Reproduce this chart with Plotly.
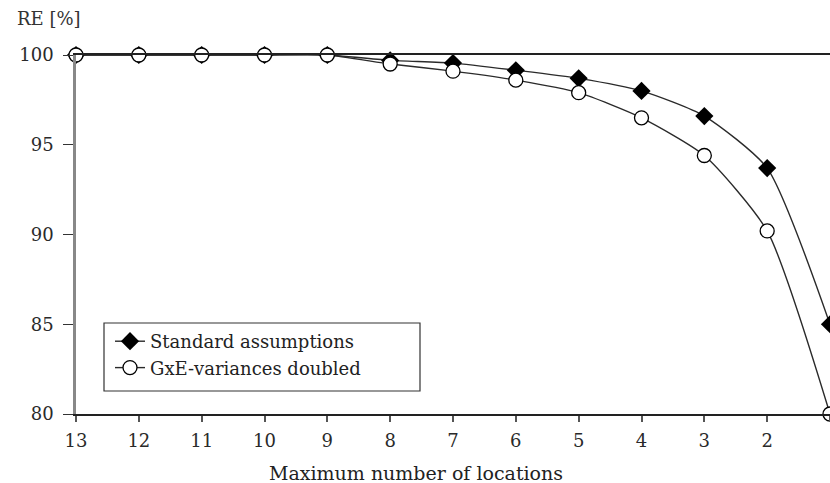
import plotly.graph_objects as go

locations = [13, 12, 11, 10, 9, 8, 7, 6, 5, 4, 3, 2, 1]
standard = [100, 100, 100, 100, 100, 99.7, 99.55, 99.15, 98.7, 98.0, 96.6, 93.7, 85.0]
gxe_doubled = [100, 100, 100, 100, 100, 99.5, 99.1, 98.6, 97.9, 96.5, 94.4, 90.2, 80.0]
y_ticks = [80, 85, 90, 95, 100]

W, H = 830, 483
ML, MR, MT, MB = 76, 0, 55, 69

font = "DejaVu Serif, Liberation Serif, serif"

fig = go.Figure()
fig.add_trace(go.Scatter(
    x=locations, y=standard, name="Standard assumptions", mode="lines+markers",
    line=dict(color="#2a2a2a", width=1.4, shape="spline", smoothing=0.6),
    marker=dict(symbol="diamond", size=14, color="black", line=dict(color="black", width=0)),
    cliponaxis=False,
))
fig.add_trace(go.Scatter(
    x=locations, y=gxe_doubled, name="GxE-variances doubled", mode="lines+markers",
    line=dict(color="#2a2a2a", width=1.4, shape="spline", smoothing=0.6),
    marker=dict(symbol="circle", size=14, color="white", line=dict(color="black", width=1.3)),
    cliponaxis=False,
))

pw = W - ML - MR
ph = H - MT - MB
def px(x):  # page pixel -> paper
    return (x - ML) / pw
def py(y):
    return 1 - (y - MT) / ph

fig.add_shape(type="rect", xref="paper", yref="paper",
              x0=px(104), x1=px(420), y0=py(391), y1=py(323),
              line=dict(color="#333", width=1.2), fillcolor="white", layer="below")

fig.update_layout(
    width=W, height=H,
    margin=dict(l=ML, r=MR, t=MT, b=MB),
    paper_bgcolor="white", plot_bgcolor="white",
    font=dict(family=font, color="#333", size=17),
    showlegend=True,
    legend=dict(x=px(110), y=py(323), xanchor="left", yanchor="top",
                bgcolor="rgba(0,0,0,0)", borderwidth=0,
                font=dict(family=font, size=18, color="#222"),
                tracegroupgap=5, itemwidth=30),
    xaxis=dict(range=[13, 1], tickmode="array", tickvals=locations,
               ticktext=[str(v) for v in locations],
               showline=True, linecolor="#222", linewidth=1.5, mirror=True,
               ticks="outside", ticklen=6, tickcolor="#555", tickwidth=2,
               ticklabelstandoff=4,
               showgrid=False, zeroline=False,
               tickfont=dict(family=font, size=18, color="#2a2a2a")),
    yaxis=dict(range=[80, 100], tickmode="array", tickvals=y_ticks,
               showline=True, linecolor="#888", linewidth=2.5,
               ticks="outside", ticklen=10, tickcolor="#333", tickwidth=1.2,
               ticklabelstandoff=6,
               showgrid=False, zeroline=False,
               tickfont=dict(family=font, size=18, color="#2a2a2a")),
    annotations=[
        dict(text="RE [%]", xref="paper", yref="paper",
             x=px(15), y=py(18), xanchor="left", yanchor="middle",
             showarrow=False, font=dict(family=font, size=18, color="#333")),
        dict(text="Maximum number of locations", xref="paper", yref="paper",
             x=px(416), y=py(473), xanchor="center", yanchor="middle",
             showarrow=False, font=dict(family=font, size=19, color="#222")),
    ],
)

fig.write_html("out.html", config={"displayModeBar": False},
               post_script="document.body.style.margin='0';document.body.style.overflow='hidden';")
